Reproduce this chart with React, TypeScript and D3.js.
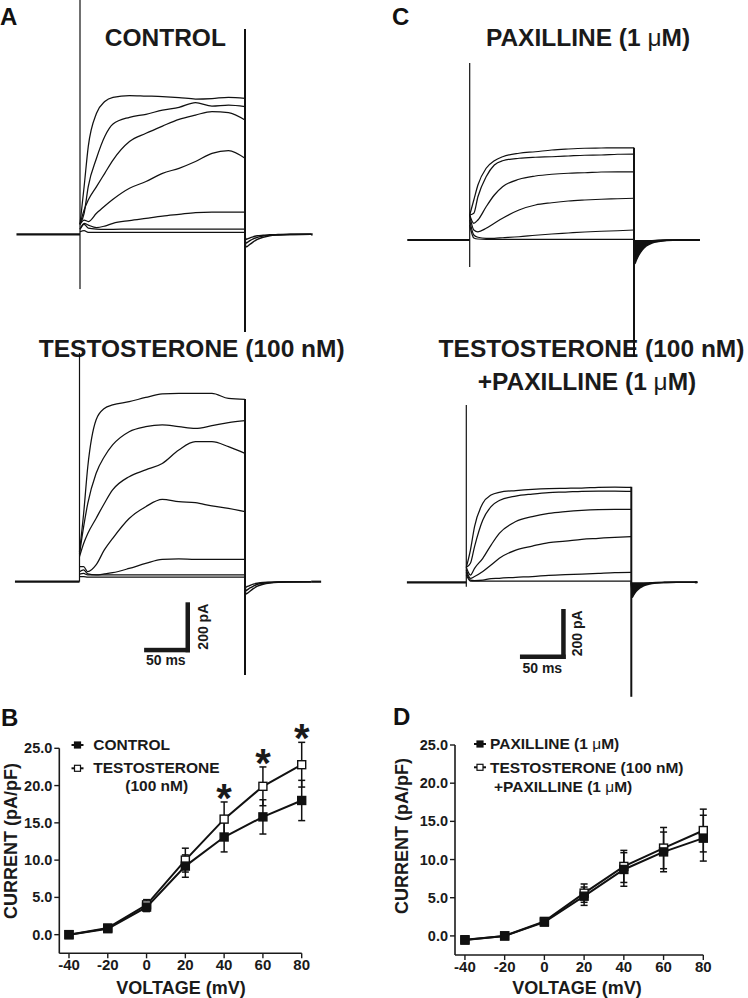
import React from "react";
import * as d3 from "d3";

// ---------------- I–V data (panels B and D) ----------------
const VOLTAGES = [-40, -20, 0, 20, 40, 60, 80]; // mV
const X_TICKS = [-40, -20, 0, 20, 40, 60, 80];
const Y_TICKS = [0, 5, 10, 15, 20, 25];

const CONTROL_MEAN = [0.0, 0.8, 3.7, 9.2, 13.1, 15.8, 18.0];
const CONTROL_SEM = [0.2, 0.3, 0.6, 1.5, 2.0, 2.3, 2.7];
const TESTO_MEAN = [0.0, 0.9, 4.0, 10.0, 15.5, 19.9, 22.8];
const TESTO_SEM = [0.2, 0.3, 0.7, 1.6, 2.3, 2.6, 3.0];
const SIGNIFICANT = [false, false, false, false, true, true, true];

const PAX_MEAN = [-0.55, 0.0, 1.8, 5.2, 8.7, 11.0, 12.8];
const PAX_SEM = [0.2, 0.2, 0.3, 1.2, 2.2, 2.6, 3.0];
const TP_MEAN = [-0.5, 0.0, 1.9, 5.6, 9.1, 11.5, 13.8];
const TP_SEM = [0.2, 0.2, 0.3, 1.2, 2.1, 2.7, 2.8];

// ---------------- current traces (panels A and C) ----------------
const TRACE_TIMES = [0, 5, 10, 20, 30, 40, 60, 80, 100, 120, 140, 160, 180, 200]; // ms
const TAIL_TIMES = [200, 201, 203, 206, 210, 215, 222, 230, 240, 255, 280]; // ms

// pA
const CONTROL_TRACES = [
  [40, 191, 351, 484, 531, 548, 555, 553, 551, 547, 541, 543, 548, 544],
  [40, 84, 191, 304, 391, 441, 468, 480, 497, 508, 527, 513, 517, 511],
  [40, 97, 137, 191, 244, 297, 371, 404, 433, 460, 477, 491, 487, 457],
  [40, 57, 51, 84, 113, 140, 184, 211, 244, 264, 291, 324, 335, 304],
  [20, 44, 37, 27, 33, 44, 55, 64, 73, 80, 87, 89, 89, 89],
  [20, 40, 25, 21, 20, 20, 21, 21, 21, 21, 21, 21, 21, 21],
  [10, 15, 8, 8, 8, 8, 8, 8, 8, 8, 8, 8, 8, 8],
];
const CONTROL_TAILS = [
  [0, -50, -48, -40, -30, -20, -12, -6, -3, -1, 0],
  [0, -35, -32, -25, -18, -12, -7, -4, -2, -1, 0],
  [0, -20, -18, -14, -10, -6, -4, -2, -1, 0, 0],
];
const CONTROL_TRANSIENTS = [937, -219, 821, -391];
const CONTROL_SWEEP = [-77, 282];

const TESTO_TRACES = [
  [120, 273, 460, 647, 693, 707, 720, 737, 751, 753, 753, 753, 733, 729],
  [110, 220, 313, 433, 500, 547, 600, 620, 627, 620, 613, 624, 636, 644],
  [100, 153, 193, 253, 313, 367, 420, 447, 473, 527, 560, 560, 540, 513],
  [60, 60, 40, 67, 127, 173, 253, 300, 329, 320, 316, 303, 293, 280],
  [40, 47, 31, 27, 31, 36, 53, 73, 89, 91, 89, 89, 89, 89],
  [30, 33, 27, 27, 27, 27, 27, 27, 27, 27, 27, 27, 27, 27],
  [20, 20, 18, 18, 18, 18, 18, 18, 18, 18, 18, 18, 18, 18],
];
const TESTO_TAILS = [
  [0, -50, -46, -38, -28, -18, -10, -5, -2, -1, 0],
  [0, -36, -32, -25, -18, -11, -6, -3, -1, 0, 0],
  [0, -22, -19, -15, -10, -6, -3, -2, -1, 0, 0],
];
const TESTO_TRANSIENTS = [915, 0, 731, -373];
const TESTO_SWEEP = [-78, 292];

const PAX_TRACES = [
  [100, 160, 220, 287, 317, 333, 347, 353, 360, 364, 367, 368, 369, 369],
  [100, 107, 173, 253, 300, 317, 327, 331, 333, 336, 339, 340, 343, 344],
  [100, 67, 80, 133, 180, 213, 243, 256, 263, 267, 269, 272, 273, 273],
  [100, 40, 33, 47, 67, 87, 120, 140, 149, 156, 160, 163, 165, 167],
  [80, 20, 11, 7, 7, 9, 13, 19, 24, 28, 32, 35, 37, 40],
  [60, 8, 4, 3, 3, 3, 3, 3, 3, 3, 3, 3, 3, 3],
];
const PAX_TAILS = [
  [0, -95, -80, -60, -40, -24, -12, -6, -2, 0, 0],
  [0, -75, -62, -45, -30, -17, -8, -4, -1, 0, 0],
  [0, -55, -44, -32, -20, -11, -5, -2, -1, 0, 0],
  [0, -35, -27, -19, -12, -6, -3, -1, 0, 0, 0],
];
const PAX_TRANSIENTS = [708, -108, 369, -468];
const PAX_SWEEP = [-76, 279];

const TP_TRACES = [
  [60, 129, 223, 316, 349, 360, 367, 372, 375, 376, 377, 380, 381, 380],
  [60, 76, 143, 249, 303, 327, 345, 353, 359, 361, 364, 365, 365, 364],
  [60, 29, 56, 96, 149, 196, 243, 263, 276, 283, 288, 291, 292, 292],
  [50, 16, 23, 43, 69, 96, 129, 145, 159, 165, 172, 176, 180, 183],
  [40, 9, 7, 9, 15, 16, 20, 23, 28, 31, 33, 36, 39, 40],
  [30, 5, 5, 5, 5, 5, 5, 5, 5, 5, 5, 5, 5, 5],
];
const TP_TAILS = [
  [0, -60, -50, -36, -24, -14, -7, -3, -1, 0, 0],
  [0, -45, -37, -27, -17, -10, -5, -2, -1, 0, 0],
  [0, -30, -24, -17, -11, -6, -3, -1, 0, 0, 0],
];
const TP_TRANSIENTS = [709, -18, 382, -458];
const TP_SWEEP = [-72, 277];

const SCALE_MS = 50;
const SCALE_PA = 200;

const FONT = "'Liberation Sans', Arial, Helvetica, sans-serif";

type TraceLayout = {
  traces: number[][];
  tails: number[][];
  transients: number[];
  sweep: number[];
  x0: number;
  x1: number;
  y0: number;
  fillTail?: boolean;
};

function makeTraceScales(p: TraceLayout) {
  const x = d3.scaleLinear().domain([0, 200]).range([p.x0, p.x1]);
  const y = d3.scaleLinear().domain([0, 200]).range([p.y0, p.y0 - 50]);
  return { x, y };
}

function TracePanel({ p }: { p: TraceLayout }) {
  const { x, y } = makeTraceScales(p);
  const line = d3
    .line<[number, number]>()
    .x((d) => x(d[0]))
    .y((d) => y(d[1]))
    .curve(d3.curveMonotoneX);
  const area = d3
    .area<[number, number]>()
    .x((d) => x(d[0]))
    .y0(y(0))
    .y1((d) => y(d[1]))
    .curve(d3.curveMonotoneX);
  const tr = p.transients;
  return (
    <g>
      <line x1={x(p.sweep[0])} x2={x(0)} y1={y(0)} y2={y(0)} stroke="#111" strokeWidth={2.2} />
      <line
        x1={x(TAIL_TIMES[TAIL_TIMES.length - 1])}
        x2={x(p.sweep[1])}
        y1={y(0)}
        y2={y(0)}
        stroke="#111"
        strokeWidth={2.2}
      />
      {p.traces.map((vals, i) => (
        <path
          key={"t" + i}
          d={line(TRACE_TIMES.map((t, j) => [t, vals[j]] as [number, number])) || ""}
          fill="none"
          stroke="#111"
          strokeWidth={1.25}
        />
      ))}
      {p.fillTail && (
        <path
          d={area(TAIL_TIMES.map((t, j) => [t, p.tails[0][j]] as [number, number])) || ""}
          fill="#111"
          stroke="none"
        />
      )}
      {p.tails.map((vals, i) => (
        <path
          key={"l" + i}
          d={line(TAIL_TIMES.map((t, j) => [t, vals[j]] as [number, number])) || ""}
          fill="none"
          stroke="#111"
          strokeWidth={1.4}
        />
      ))}
      <line x1={x(0)} x2={x(0)} y1={y(tr[0])} y2={y(tr[1])} stroke="#111" strokeWidth={1.2} />
      <line x1={x(200)} x2={x(200)} y1={y(tr[2])} y2={y(tr[3])} stroke="#111" strokeWidth={2} />
    </g>
  );
}

function ScaleBar({
  p,
  corner,
  msPos,
  paPos,
}: {
  p: TraceLayout;
  corner: [number, number];
  msPos: [number, number];
  paPos: [number, number];
}) {
  const { x, y } = makeTraceScales(p);
  const w = x(SCALE_MS) - x(0);
  const h = y(0) - y(SCALE_PA);
  const th = 4.5;
  const [cx, cy] = corner;
  return (
    <g>
      <rect x={cx - w - th} y={cy - th} width={w + th} height={th} fill="#1a1a1a" />
      <rect x={cx - th} y={cy - h} width={th} height={h} fill="#1a1a1a" />
      <text
        x={msPos[0]}
        y={msPos[1]}
        textAnchor="middle"
        fontFamily={FONT}
        fontWeight="bold"
        fontSize={14}
        fill="#1a1a1a"
      >
        {SCALE_MS} ms
      </text>
      <text
        transform={`translate(${paPos[0]},${paPos[1]}) rotate(-90)`}
        textAnchor="middle"
        dominantBaseline="central"
        fontFamily={FONT}
        fontWeight="bold"
        fontSize={14}
        fill="#1a1a1a"
      >
        {SCALE_PA} pA
      </text>
    </g>
  );
}

type Series = { mean: number[]; sem: number[]; filled: boolean };

function IVPanel({
  xr,
  yr,
  series,
  stars,
  xLabelPos,
  yLabelPos,
}: {
  xr: [number, number];
  yr: [number, number];
  series: Series[];
  stars?: boolean[];
  xLabelPos: [number, number];
  yLabelPos: [number, number];
}) {
  const xs = d3.scaleLinear().domain([-45, 80]).range(xr);
  const ys = d3.scaleLinear().domain([-2.5, 25]).range(yr);
  const line = d3
    .line<number>()
    .x((_, i) => xs(VOLTAGES[i]))
    .y((d) => ys(d));
  const fmt = d3.format(".1f");
  const ax = xs(-45);
  const ay = ys(-2.5);
  const sq = 8;
  return (
    <g fontFamily={FONT} fill="#1a1a1a">
      {/* axes */}
      <line x1={ax} x2={ax} y1={ys(25)} y2={ay} stroke="#1a1a1a" strokeWidth={1.6} />
      <line x1={ax} x2={xs(80)} y1={ay} y2={ay} stroke="#1a1a1a" strokeWidth={1.6} />
      {Y_TICKS.map((t) => (
        <g key={"y" + t}>
          <line x1={ax - 5} x2={ax} y1={ys(t)} y2={ys(t)} stroke="#1a1a1a" strokeWidth={1.4} />
          <text x={ax - 7} y={ys(t) + 5} textAnchor="end" fontWeight="bold" fontSize={14.5}>
            {fmt(t)}
          </text>
        </g>
      ))}
      {X_TICKS.map((t) => (
        <g key={"x" + t}>
          <line x1={xs(t)} x2={xs(t)} y1={ay} y2={ay + 5} stroke="#1a1a1a" strokeWidth={1.4} />
          <text x={xs(t)} y={ay + 16.5} textAnchor="middle" fontWeight="bold" fontSize={15}>
            {t}
          </text>
        </g>
      ))}
      <text x={xLabelPos[0]} y={xLabelPos[1]} textAnchor="middle" fontWeight="bold" fontSize={18}>
        VOLTAGE (mV)
      </text>
      <text
        transform={`translate(${yLabelPos[0]},${yLabelPos[1]}) rotate(-90)`}
        textAnchor="middle"
        dominantBaseline="central"
        fontWeight="bold"
        fontSize={18}
      >
        CURRENT (pA/pF)
      </text>
      {/* lines */}
      {series.map((s, k) => (
        <path key={"ln" + k} d={line(s.mean) || ""} fill="none" stroke="#111" strokeWidth={2} />
      ))}
      {/* error bars */}
      {series.map((s, k) =>
        s.mean.map((m, i) => {
          const x = xs(VOLTAGES[i]);
          const y1 = ys(m + s.sem[i]);
          const y2 = ys(m - s.sem[i]);
          return (
            <g key={"e" + k + "_" + i} stroke="#111" strokeWidth={1.5}>
              <line x1={x} x2={x} y1={y1} y2={y2} />
              <line x1={x - 3.5} x2={x + 3.5} y1={y1} y2={y1} />
              <line x1={x - 3.5} x2={x + 3.5} y1={y2} y2={y2} />
            </g>
          );
        })
      )}
      {/* markers: open first, filled on top */}
      {[...series]
        .sort((a, b) => (a.filled === b.filled ? 0 : a.filled ? 1 : -1))
        .map((s, k) =>
          s.mean.map((m, i) => (
            <rect
              key={"m" + k + "_" + i}
              x={xs(VOLTAGES[i]) - sq / 2}
              y={ys(m) - sq / 2}
              width={sq}
              height={sq}
              fill={s.filled ? "#111" : "#fff"}
              stroke="#111"
              strokeWidth={1.4}
            />
          ))
        )}
      {stars &&
        stars.map((st, i) => {
          if (!st) return null;
          const top = Math.max(...series.map((s) => s.mean[i] + s.sem[i]));
          return (
            <text
              key={"s" + i}
              x={xs(VOLTAGES[i])}
              y={ys(top) - 12 + 22}
              textAnchor="middle"
              fontWeight="bold"
              fontSize={40}
            >
              *
            </text>
          );
        })}
    </g>
  );
}

function LegendItem({
  x,
  y,
  filled,
}: {
  x: number;
  y: number;
  filled: boolean;
}) {
  return (
    <g>
      <line x1={x - 6} x2={x + 6} y1={y} y2={y} stroke="#111" strokeWidth={2} />
      <rect x={x - 3} y={y - 3} width={6} height={6} fill={filled ? "#111" : "#fff"} stroke="#111" strokeWidth={1.2} />
    </g>
  );
}

const MU = "\u03bc";

export default function App() {
  const panelA1: TraceLayout = {
    traces: CONTROL_TRACES,
    tails: CONTROL_TAILS,
    transients: CONTROL_TRANSIENTS,
    sweep: CONTROL_SWEEP,
    x0: 80,
    x1: 245,
    y0: 234.3,
  };
  const panelA2: TraceLayout = {
    traces: TESTO_TRACES,
    tails: TESTO_TAILS,
    transients: TESTO_TRANSIENTS,
    sweep: TESTO_SWEEP,
    x0: 79.5,
    x1: 245,
    y0: 581.7,
  };
  const panelC1: TraceLayout = {
    traces: PAX_TRACES,
    tails: PAX_TAILS,
    transients: PAX_TRANSIENTS,
    sweep: PAX_SWEEP,
    x0: 469.7,
    x1: 634,
    y0: 240,
    fillTail: true,
  };
  const panelC2: TraceLayout = {
    traces: TP_TRACES,
    tails: TP_TAILS,
    transients: TP_TRANSIENTS,
    sweep: TP_SWEEP,
    x0: 466.3,
    x1: 631.3,
    y0: 582.3,
    fillTail: true,
  };

  const title = { fontFamily: FONT, fontWeight: "bold" as const, fontSize: 24.5, fill: "#1a1a1a" };
  const letter = { fontFamily: FONT, fontWeight: "bold" as const, fontSize: 24, fill: "#111" };
  const leg = { fontFamily: FONT, fontWeight: "bold" as const, fontSize: 15.5, fill: "#1a1a1a" };

  return (
    <svg
      width={748}
      height={998}
      viewBox="0 0 748 998"
      style={{ position: "absolute", left: 0, top: 0, background: "#fff" }}
    >
      <rect width={748} height={998} fill="#fff" />
      {/* panel letters */}
      <text x={0} y={25} {...letter}>A</text>
      <text x={392} y={25} {...letter}>C</text>
      <text x={1} y={726} {...letter}>B</text>
      <text x={393} y={725} {...letter}>D</text>

      {/* titles */}
      <text x={165.3} y={46} textAnchor="middle" {...title}>CONTROL</text>
      <text x={191.7} y={356.7} textAnchor="middle" {...title}>TESTOSTERONE (100 nM)</text>
      <text x={588} y={46} textAnchor="middle" {...title}>
        PAXILLINE (1 <tspan fontWeight="normal">{MU}</tspan>M)
      </text>
      <text x={591.5} y={356.7} textAnchor="middle" {...title}>TESTOSTERONE (100 nM)</text>
      <text x={587} y={390} textAnchor="middle" {...title}>
        +PAXILLINE (1 <tspan fontWeight="normal">{MU}</tspan>M)
      </text>

      {/* traces */}
      <TracePanel p={panelA1} />
      <TracePanel p={panelA2} />
      <TracePanel p={panelC1} />
      <TracePanel p={panelC2} />

      <ScaleBar p={panelA2} corner={[190, 652.3]} msPos={[165.8, 665]} paPos={[202.5, 626.7]} />
      <ScaleBar p={panelC2} corner={[565.7, 659]} msPos={[542.3, 673.3]} paPos={[576.5, 633.3]} />

      {/* panel B */}
      <IVPanel
        xr={[59.3, 301.7]}
        yr={[953.3, 748.3]}
        series={[
          { mean: TESTO_MEAN, sem: TESTO_SEM, filled: false },
          { mean: CONTROL_MEAN, sem: CONTROL_SEM, filled: true },
        ]}
        stars={SIGNIFICANT}
        xLabelPos={[181, 994]}
        yLabelPos={[11, 841]}
      />
      <LegendItem x={77.5} y={745} filled={true} />
      <text x={93.3} y={750} {...leg}>CONTROL</text>
      <LegendItem x={77.5} y={768.3} filled={false} />
      <text x={93.3} y={773.3} {...leg}>TESTOSTERONE</text>
      <text x={156.7} y={790.5} textAnchor="middle" {...leg}>(100 nM)</text>

      {/* panel D */}
      <IVPanel
        xr={[455, 703.3]}
        yr={[955, 745]}
        series={[
          { mean: TP_MEAN, sem: TP_SEM, filled: false },
          { mean: PAX_MEAN, sem: PAX_SEM, filled: true },
        ]}
        xLabelPos={[577, 994]}
        yLabelPos={[401.5, 836]}
      />
      <LegendItem x={480} y={744} filled={true} />
      <text x={490} y={749.3} {...leg}>
        PAXILLINE (1 <tspan fontWeight="normal">{MU}</tspan>M)
      </text>
      <LegendItem x={480} y={767.3} filled={false} />
      <text x={490} y={772.7} {...leg}>TESTOSTERONE (100 nM)</text>
      <text x={494} y={791.5} {...leg}>
        +PAXILLINE (1 <tspan fontWeight="normal">{MU}</tspan>M)
      </text>
    </svg>
  );
}
